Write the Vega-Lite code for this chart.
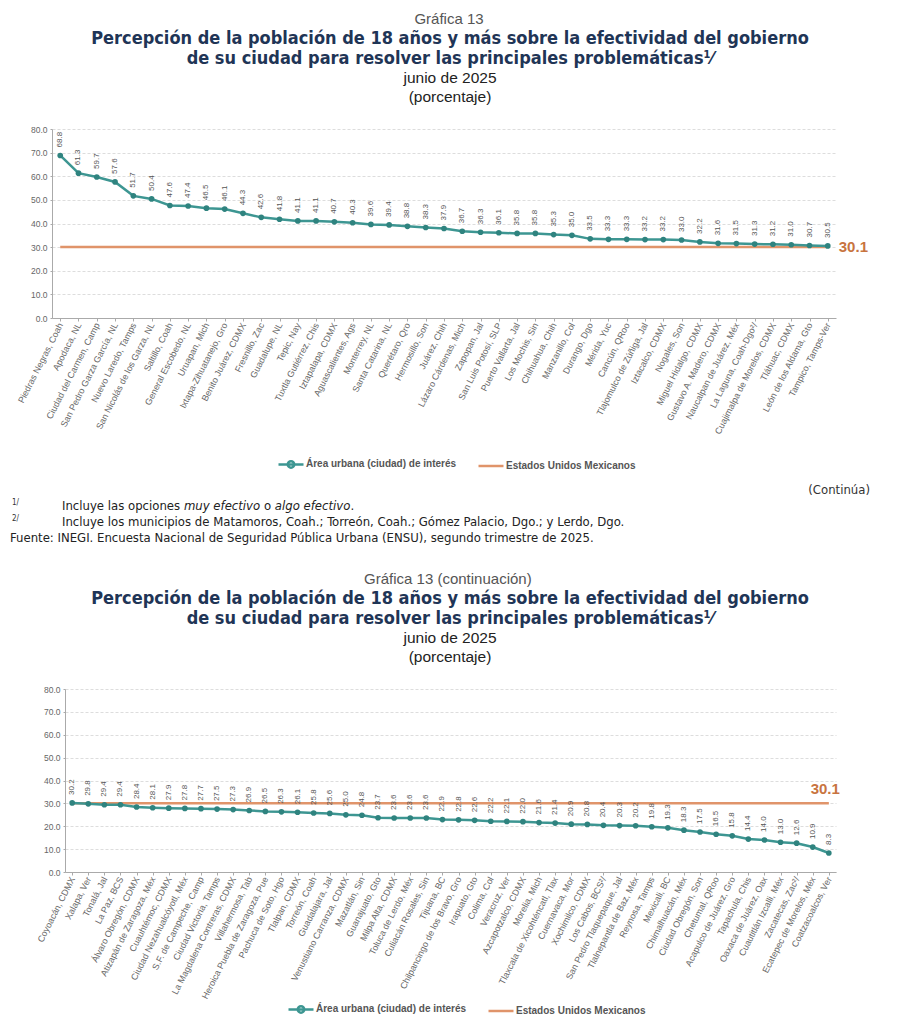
{
  "$schema": "https://vega.github.io/schema/vega-lite/v6.json",
  "background": "white",
  "padding": {"left": 10, "top": 11, "right": 0, "bottom": 0},
  "spacing": 11,
  "resolve": {"scale": {"color": "independent"}, "legend": {"color": "independent"}},
  "config": {
    "font": "Liberation Sans",
    "view": {"stroke": null},
    "title": {"font": "Liberation Sans Narrow, DejaVu Sans Condensed, Liberation Sans", "subtitleFont": "Liberation Sans"},
    "axis": {"labelFont": "Liberation Sans", "labelFontSize": 8.5, "labelColor": "#666", "domainColor": "#aaaaaa", "tickColor": "#aaaaaa", "tickSize": 3, "gridColor": "#dddddd", "gridDash": [3, 2], "title": null},
    "axisX": {"grid": false, "labelAngle": -63, "labelOverlap": false, "labelPadding": 2, "labelLimit": 300, "labelFontSize": 9},
    "axisY": {"grid": true, "format": ".1f", "labelPadding": 3, "tickSize": 2, "labelOverlap": false},
    "legend": {"orient": "none", "direction": "horizontal", "title": null, "symbolType": "stroke", "symbolSize": 625, "symbolStrokeWidth": 2.5, "labelFontSize": 10, "labelFontWeight": "bold", "labelColor": "#555", "labelOffset": 1, "columnPadding": 16}
  },
  "datasets": {
    "primera": [
      {"ciudad": "Piedras Negras, Coah", "valor": 68.8, "nacional": 30.1},
      {"ciudad": "Apodaca, NL", "valor": 61.3, "nacional": 30.1},
      {"ciudad": "Ciudad del Carmen, Camp", "valor": 59.7, "nacional": 30.1},
      {"ciudad": "San Pedro Garza García, NL", "valor": 57.6, "nacional": 30.1},
      {"ciudad": "Nuevo Laredo, Tamps", "valor": 51.7, "nacional": 30.1},
      {"ciudad": "San Nicolás de los Garza, NL", "valor": 50.4, "nacional": 30.1},
      {"ciudad": "Saltillo, Coah", "valor": 47.6, "nacional": 30.1},
      {"ciudad": "General Escobedo, NL", "valor": 47.4, "nacional": 30.1},
      {"ciudad": "Uruapan, Mich", "valor": 46.5, "nacional": 30.1},
      {"ciudad": "Ixtapa-Zihuatanejo, Gro", "valor": 46.1, "nacional": 30.1},
      {"ciudad": "Benito Juárez, CDMX", "valor": 44.3, "nacional": 30.1},
      {"ciudad": "Fresnillo, Zac", "valor": 42.6, "nacional": 30.1},
      {"ciudad": "Guadalupe, NL", "valor": 41.8, "nacional": 30.1},
      {"ciudad": "Tepic, Nay", "valor": 41.1, "nacional": 30.1},
      {"ciudad": "Tuxtla Gutiérrez, Chis", "valor": 41.1, "nacional": 30.1},
      {"ciudad": "Iztapalapa, CDMX", "valor": 40.7, "nacional": 30.1},
      {"ciudad": "Aguascalientes, Ags", "valor": 40.3, "nacional": 30.1},
      {"ciudad": "Monterrey, NL", "valor": 39.6, "nacional": 30.1},
      {"ciudad": "Santa Catarina, NL", "valor": 39.4, "nacional": 30.1},
      {"ciudad": "Querétaro, Qro", "valor": 38.8, "nacional": 30.1},
      {"ciudad": "Hermosillo, Son", "valor": 38.3, "nacional": 30.1},
      {"ciudad": "Juárez, Chih", "valor": 37.9, "nacional": 30.1},
      {"ciudad": "Lázaro Cárdenas, Mich", "valor": 36.7, "nacional": 30.1},
      {"ciudad": "Zapopan, Jal", "valor": 36.3, "nacional": 30.1},
      {"ciudad": "San Luis Potosí, SLP", "valor": 36.1, "nacional": 30.1},
      {"ciudad": "Puerto Vallarta, Jal", "valor": 35.8, "nacional": 30.1},
      {"ciudad": "Los Mochis, Sin", "valor": 35.8, "nacional": 30.1},
      {"ciudad": "Chihuahua, Chih", "valor": 35.3, "nacional": 30.1},
      {"ciudad": "Manzanillo, Col", "valor": 35.0, "nacional": 30.1},
      {"ciudad": "Durango, Dgo", "valor": 33.5, "nacional": 30.1},
      {"ciudad": "Mérida, Yuc", "valor": 33.3, "nacional": 30.1},
      {"ciudad": "Cancún, QRoo", "valor": 33.3, "nacional": 30.1},
      {"ciudad": "Tlajomulco de Zúñiga, Jal", "valor": 33.2, "nacional": 30.1},
      {"ciudad": "Iztacalco, CDMX", "valor": 33.2, "nacional": 30.1},
      {"ciudad": "Nogales, Son", "valor": 33.0, "nacional": 30.1},
      {"ciudad": "Miguel Hidalgo, CDMX", "valor": 32.2, "nacional": 30.1},
      {"ciudad": "Gustavo A. Madero, CDMX", "valor": 31.6, "nacional": 30.1},
      {"ciudad": "Naucalpan de Juárez, Méx", "valor": 31.5, "nacional": 30.1},
      {"ciudad": "La Laguna, Coah-Dgo²/", "valor": 31.3, "nacional": 30.1},
      {"ciudad": "Cuajimalpa de Morelos, CDMX", "valor": 31.2, "nacional": 30.1},
      {"ciudad": "Tláhuac, CDMX", "valor": 31.0, "nacional": 30.1},
      {"ciudad": "León de los Aldama, Gto", "valor": 30.7, "nacional": 30.1},
      {"ciudad": "Tampico, Tamps-Ver", "valor": 30.5, "nacional": 30.1}
    ],
    "segunda": [
      {"ciudad": "Coyoacán, CDMX", "valor": 30.2, "nacional": 30.1},
      {"ciudad": "Xalapa, Ver", "valor": 29.8, "nacional": 30.1},
      {"ciudad": "Tonalá, Jal", "valor": 29.4, "nacional": 30.1},
      {"ciudad": "La Paz, BCS", "valor": 29.4, "nacional": 30.1},
      {"ciudad": "Álvaro Obregón, CDMX", "valor": 28.4, "nacional": 30.1},
      {"ciudad": "Atizapán de Zaragoza, Méx", "valor": 28.1, "nacional": 30.1},
      {"ciudad": "Cuauhtémoc, CDMX", "valor": 27.9, "nacional": 30.1},
      {"ciudad": "Ciudad Nezahualcóyotl, Méx", "valor": 27.8, "nacional": 30.1},
      {"ciudad": "S.F. de Campeche, Camp", "valor": 27.7, "nacional": 30.1},
      {"ciudad": "Ciudad Victoria, Tamps", "valor": 27.5, "nacional": 30.1},
      {"ciudad": "La Magdalena Contreras, CDMX", "valor": 27.3, "nacional": 30.1},
      {"ciudad": "Villahermosa, Tab", "valor": 26.9, "nacional": 30.1},
      {"ciudad": "Heroica Puebla de Zaragoza, Pue", "valor": 26.5, "nacional": 30.1},
      {"ciudad": "Pachuca de Soto, Hgo", "valor": 26.3, "nacional": 30.1},
      {"ciudad": "Tlalpan, CDMX", "valor": 26.1, "nacional": 30.1},
      {"ciudad": "Torreón, Coah", "valor": 25.8, "nacional": 30.1},
      {"ciudad": "Guadalajara, Jal", "valor": 25.6, "nacional": 30.1},
      {"ciudad": "Venustiano Carranza, CDMX", "valor": 25.0, "nacional": 30.1},
      {"ciudad": "Mazatlán, Sin", "valor": 24.8, "nacional": 30.1},
      {"ciudad": "Guanajuato, Gto", "valor": 23.7, "nacional": 30.1},
      {"ciudad": "Milpa Alta, CDMX", "valor": 23.6, "nacional": 30.1},
      {"ciudad": "Toluca de Lerdo, Méx", "valor": 23.6, "nacional": 30.1},
      {"ciudad": "Culiacán Rosales, Sin", "valor": 23.6, "nacional": 30.1},
      {"ciudad": "Tijuana, BC", "valor": 22.9, "nacional": 30.1},
      {"ciudad": "Chilpancingo de los Bravo, Gro", "valor": 22.8, "nacional": 30.1},
      {"ciudad": "Irapuato, Gto", "valor": 22.6, "nacional": 30.1},
      {"ciudad": "Colima, Col", "valor": 22.2, "nacional": 30.1},
      {"ciudad": "Veracruz, Ver", "valor": 22.1, "nacional": 30.1},
      {"ciudad": "Azcapotzalco, CDMX", "valor": 22.0, "nacional": 30.1},
      {"ciudad": "Morelia, Mich", "valor": 21.6, "nacional": 30.1},
      {"ciudad": "Tlaxcala de Xicohténcatl, Tlax", "valor": 21.4, "nacional": 30.1},
      {"ciudad": "Cuernavaca, Mor", "valor": 20.9, "nacional": 30.1},
      {"ciudad": "Xochimilco, CDMX", "valor": 20.8, "nacional": 30.1},
      {"ciudad": "Los Cabos, BCS²/", "valor": 20.4, "nacional": 30.1},
      {"ciudad": "San Pedro Tlaquepaque, Jal", "valor": 20.3, "nacional": 30.1},
      {"ciudad": "Tlalnepantla de Baz, Méx", "valor": 20.2, "nacional": 30.1},
      {"ciudad": "Reynosa, Tamps", "valor": 19.8, "nacional": 30.1},
      {"ciudad": "Mexicali, BC", "valor": 19.3, "nacional": 30.1},
      {"ciudad": "Chimalhuacán, Méx", "valor": 18.3, "nacional": 30.1},
      {"ciudad": "Ciudad Obregón, Son", "valor": 17.5, "nacional": 30.1},
      {"ciudad": "Chetumal, QRoo", "valor": 16.5, "nacional": 30.1},
      {"ciudad": "Acapulco de Juárez, Gro", "valor": 15.8, "nacional": 30.1},
      {"ciudad": "Tapachula, Chis", "valor": 14.4, "nacional": 30.1},
      {"ciudad": "Oaxaca de Juárez, Oax", "valor": 14.0, "nacional": 30.1},
      {"ciudad": "Cuautitlán Izcalli, Méx", "valor": 13.0, "nacional": 30.1},
      {"ciudad": "Zacatecas, Zac²/", "valor": 12.6, "nacional": 30.1},
      {"ciudad": "Ecatepec de Morelos, Méx", "valor": 10.9, "nacional": 30.1},
      {"ciudad": "Coatzacoalcos, Ver", "valor": 8.3, "nacional": 30.1}
    ],
    "notas": [
      {"fila": 0, "tipo": "continua", "texto": "(Continúa)"},
      {"fila": 1, "tipo": "marca", "texto": "1/"},
      {"fila": 1, "tipo": "n1a", "texto": "Incluye las opciones"},
      {"fila": 1, "tipo": "n1b", "texto": "muy efectivo"},
      {"fila": 1, "tipo": "n1c", "texto": "o"},
      {"fila": 1, "tipo": "n1d", "texto": "algo efectivo"},
      {"fila": 1, "tipo": "n1e", "texto": "."},
      {"fila": 2, "tipo": "marca", "texto": "2/"},
      {"fila": 2, "tipo": "nota", "texto": "Incluye los municipios de Matamoros, Coah.; Torreón, Coah.; Gómez Palacio, Dgo.; y Lerdo, Dgo."},
      {"fila": 3, "tipo": "fuente", "texto": "Fuente: INEGI. Encuesta Nacional de Seguridad Pública Urbana (ENSU), segundo trimestre de 2025."}
    ]
  },
  "vconcat": [
    {
      "title": {"text": "Gráfica 13", "font": "Liberation Sans", "fontSize": 15, "fontWeight": "normal", "color": "#555555", "offset": 3, "anchor": "middle", "dx": 10},
      "resolve": {"scale": {"color": "independent"}, "legend": {"color": "independent"}},
      "vconcat": [
        {
          "title": {
            "text": ["Percepción de la población de 18 años y más sobre la efectividad del gobierno", "de su ciudad para resolver las principales problemáticas¹⁄"],
            "subtitle": ["junio de 2025", "(porcentaje)"],
            "fontSize": 18, "fontWeight": "bold", "color": "#1f3556", "lineHeight": 20,
            "subtitleFontSize": 15.5, "subtitleColor": "#222222", "subtitleLineHeight": 19, "subtitlePadding": 3,
            "offset": 20, "anchor": "middle", "frame": "group", "dx": 6
          },
          "width": 784,
          "height": 189,
          "data": {"name": "primera"},
          "encoding": {
            "x": {"field": "ciudad", "type": "nominal", "sort": null, "scale": {"type": "point", "padding": 0.45}}
          },
          "layer": [
            {
              "mark": {"type": "line", "strokeWidth": 2.5},
              "encoding": {
                "y": {"field": "nacional", "type": "quantitative", "scale": {"domain": [0, 80], "nice": false}, "axis": {"minExtent": 42, "tickCount": 9, "values": [0, 10, 20, 30, 40, 50, 60, 70, 80]}},
                "color": {"datum": "Estados Unidos Mexicanos", "type": "nominal",
                  "scale": {"domain": ["Área urbana (ciudad) de interés", "Estados Unidos Mexicanos"], "range": ["#3d9692", "#e0946a"]},
                  "legend": {"legendX": 225, "legendY": 321,
                    "encode": {"symbols": {"update": {"shape": {"signal": "datum.value === 'Área urbana (ciudad) de interés' ? 'M-1,0H1M-0.26,0A0.26,0.26 0 1 1 0.26,0A0.26,0.26 0 1 1 -0.26,0Z' : 'stroke'"}}}}}
                }
              }
            },
            {
              "mark": {"type": "line", "strokeWidth": 2.5},
              "encoding": {
                "y": {"field": "valor", "type": "quantitative", "axis": {"minExtent": 42, "tickCount": 9, "values": [0, 10, 20, 30, 40, 50, 60, 70, 80]}},
                "color": {"datum": "Área urbana (ciudad) de interés", "type": "nominal"}
              }
            },
            {
              "mark": {"type": "point", "filled": true, "size": 32, "opacity": 1, "color": "#2f837f"},
              "encoding": {"y": {"field": "valor", "type": "quantitative", "axis": {"minExtent": 42, "tickCount": 9, "values": [0, 10, 20, 30, 40, 50, 60, 70, 80]}}}
            },
            {
              "mark": {"type": "text", "angle": 270, "align": "left", "baseline": "middle", "dx": 8, "fontSize": 8, "color": "#555555"},
              "encoding": {
                "y": {"field": "valor", "type": "quantitative", "axis": {"minExtent": 42, "tickCount": 9, "values": [0, 10, 20, 30, 40, 50, 60, 70, 80]}},
                "text": {"field": "valor", "type": "quantitative", "format": ".1f"}
              }
            },
            {
              "transform": [{"filter": "datum.ciudad === 'Tampico, Tamps-Ver'"}],
              "mark": {"type": "text", "align": "left", "baseline": "middle", "dx": 11, "fontSize": 15, "fontWeight": "bold", "color": "#c8743f"},
              "encoding": {
                "y": {"field": "nacional", "type": "quantitative", "axis": {"minExtent": 42, "tickCount": 9, "values": [0, 10, 20, 30, 40, 50, 60, 70, 80]}},
                "text": {"field": "nacional", "type": "quantitative", "format": ".1f"}
              }
            }
          ]
        }
      ]
    },
    {
      "width": 818,
      "height": 70,
      "data": {"name": "notas"},
      "encoding": {
        "y": {"field": "fila", "type": "ordinal", "scale": {"type": "point", "range": [0, 48], "padding": 0}, "axis": null}
      },
      "layer": [
        {
          "transform": [{"filter": "datum.tipo === 'continua'"}],
          "mark": {"type": "text", "align": "right", "baseline": "middle", "x": 818, "fontSize": 13, "color": "#333333", "font": "Liberation Sans Narrow, DejaVu Sans Condensed, Liberation Sans"},
          "encoding": {"text": {"field": "texto"}}
        },
        {
          "transform": [{"filter": "datum.tipo === 'marca'"}],
          "mark": {"type": "text", "align": "left", "baseline": "middle", "x": -40, "dy": -3, "fontSize": 8, "color": "#333333", "font": "Liberation Sans Narrow, DejaVu Sans Condensed, Liberation Sans"},
          "encoding": {"text": {"field": "texto"}}
        },
        {
          "transform": [{"filter": "datum.tipo === 'nota' || datum.tipo === 'n1a'"}],
          "mark": {"type": "text", "align": "left", "baseline": "middle", "x": 10, "fontSize": 13, "color": "#222222", "font": "Liberation Sans Narrow, DejaVu Sans Condensed, Liberation Sans"},
          "encoding": {"text": {"field": "texto"}}
        },
        {
          "transform": [{"filter": "datum.tipo === 'n1b'"}],
          "mark": {"type": "text", "align": "left", "baseline": "middle", "x": 131.9, "fontSize": 13, "fontStyle": "italic", "color": "#222222", "font": "Liberation Sans Narrow, DejaVu Sans Condensed, Liberation Sans"},
          "encoding": {"text": {"field": "texto"}}
        },
        {
          "transform": [{"filter": "datum.tipo === 'n1c'"}],
          "mark": {"type": "text", "align": "left", "baseline": "middle", "x": 211.9, "fontSize": 13, "color": "#222222", "font": "Liberation Sans Narrow, DejaVu Sans Condensed, Liberation Sans"},
          "encoding": {"text": {"field": "texto"}}
        },
        {
          "transform": [{"filter": "datum.tipo === 'n1d'"}],
          "mark": {"type": "text", "align": "left", "baseline": "middle", "x": 222.8, "fontSize": 13, "fontStyle": "italic", "color": "#222222", "font": "Liberation Sans Narrow, DejaVu Sans Condensed, Liberation Sans"},
          "encoding": {"text": {"field": "texto"}}
        },
        {
          "transform": [{"filter": "datum.tipo === 'n1e'"}],
          "mark": {"type": "text", "align": "left", "baseline": "middle", "x": 298.6, "fontSize": 13, "color": "#222222", "font": "Liberation Sans Narrow, DejaVu Sans Condensed, Liberation Sans"},
          "encoding": {"text": {"field": "texto"}}
        },
        {
          "transform": [{"filter": "datum.tipo === 'fuente'"}],
          "mark": {"type": "text", "align": "left", "baseline": "middle", "x": -42, "fontSize": 13, "color": "#222222", "font": "Liberation Sans Narrow, DejaVu Sans Condensed, Liberation Sans"},
          "encoding": {"text": {"field": "texto"}}
        }
      ]
    },
    {
      "title": {"text": "Gráfica 13 (continuación)", "font": "Liberation Sans", "fontSize": 15, "fontWeight": "normal", "color": "#555555", "offset": 3, "anchor": "middle", "dx": 10},
      "resolve": {"scale": {"color": "independent"}, "legend": {"color": "independent"}},
      "vconcat": [
        {
          "title": {
            "text": ["Percepción de la población de 18 años y más sobre la efectividad del gobierno", "de su ciudad para resolver las principales problemáticas¹⁄"],
            "subtitle": ["junio de 2025", "(porcentaje)"],
            "fontSize": 18, "fontWeight": "bold", "color": "#1f3556", "lineHeight": 20,
            "subtitleFontSize": 15.5, "subtitleColor": "#222222", "subtitleLineHeight": 19, "subtitlePadding": 3,
            "offset": 20, "anchor": "middle", "frame": "group", "dx": 6
          },
          "width": 784,
          "height": 183,
          "data": {"name": "segunda"},
          "encoding": {
            "x": {"field": "ciudad", "type": "nominal", "sort": null, "scale": {"type": "point", "range": [13, 784], "padding": 0.445}}
          },
          "layer": [
            {
              "mark": {"type": "line", "strokeWidth": 2.5},
              "encoding": {
                "y": {"field": "nacional", "type": "quantitative", "scale": {"domain": [0, 80], "nice": false}, "axis": {"offset": -13, "tickCount": 9, "values": [0, 10, 20, 30, 40, 50, 60, 70, 80]}},
                "color": {"datum": "Estados Unidos Mexicanos", "type": "nominal",
                  "scale": {"domain": ["Área urbana (ciudad) de interés", "Estados Unidos Mexicanos"], "range": ["#3d9692", "#e0946a"]},
                  "legend": {"legendX": 235, "legendY": 306,
                    "encode": {"symbols": {"update": {"shape": {"signal": "datum.value === 'Área urbana (ciudad) de interés' ? 'M-1,0H1M-0.26,0A0.26,0.26 0 1 1 0.26,0A0.26,0.26 0 1 1 -0.26,0Z' : 'stroke'"}}}}}
                }
              }
            },
            {
              "mark": {"type": "line", "strokeWidth": 2.5},
              "encoding": {
                "y": {"field": "valor", "type": "quantitative", "axis": {"offset": -13, "tickCount": 9, "values": [0, 10, 20, 30, 40, 50, 60, 70, 80]}},
                "color": {"datum": "Área urbana (ciudad) de interés", "type": "nominal"}
              }
            },
            {
              "mark": {"type": "point", "filled": true, "size": 32, "opacity": 1, "color": "#2f837f"},
              "encoding": {"y": {"field": "valor", "type": "quantitative", "axis": {"offset": -13, "tickCount": 9, "values": [0, 10, 20, 30, 40, 50, 60, 70, 80]}}}
            },
            {
              "mark": {"type": "text", "angle": 270, "align": "left", "baseline": "middle", "dx": 8, "fontSize": 8, "color": "#555555"},
              "encoding": {
                "y": {"field": "valor", "type": "quantitative", "axis": {"offset": -13, "tickCount": 9, "values": [0, 10, 20, 30, 40, 50, 60, 70, 80]}},
                "text": {"field": "valor", "type": "quantitative", "format": ".1f"}
              }
            },
            {
              "transform": [{"filter": "datum.ciudad === 'Coatzacoalcos, Ver'"}],
              "mark": {"type": "text", "align": "right", "baseline": "middle", "dx": 11, "dy": -14, "fontSize": 15, "fontWeight": "bold", "color": "#c8743f"},
              "encoding": {
                "y": {"field": "nacional", "type": "quantitative", "axis": {"offset": -13, "tickCount": 9, "values": [0, 10, 20, 30, 40, 50, 60, 70, 80]}},
                "text": {"field": "nacional", "type": "quantitative", "format": ".1f"}
              }
            }
          ]
        }
      ]
    }
  ]
}
